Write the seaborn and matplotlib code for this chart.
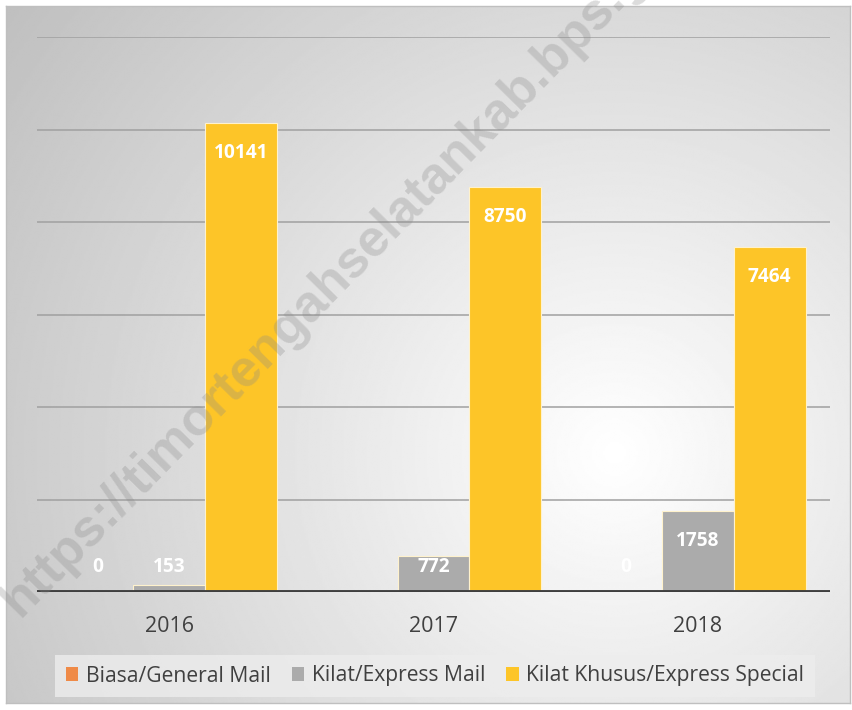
import numpy as np
import pandas as pd
import matplotlib
matplotlib.use("Agg")
import matplotlib.pyplot as plt
import seaborn as sns

# data
years = ["2016", "2017", "2018"]
series = ["Biasa/General Mail", "Kilat/Express Mail", "Kilat Khusus/Express Special"]
biasa = [0, np.nan, 0]
kilat = [153, 772, 1758]
kilat_khusus = [10141, 8750, 7464]
colors = ["#EF8A47", "#ABABAB", "#FDC528"]
watermark = "https://timortengahselatankab.bps.go.id"

df = pd.DataFrame({
    "year": years * 3,
    "series": [series[0]] * 3 + [series[1]] * 3 + [series[2]] * 3,
    "value": biasa + kilat + kilat_khusus,
})

sns.set_theme(style="white")
plt.rcParams["font.family"] = ["Open Sans", "DejaVu Sans"]

W, H = 853, 710
fig = plt.figure(figsize=(W / 100, H / 100), dpi=100)
fig.patch.set_facecolor("white")

# radial grey background of the chart area
bg = fig.add_axes([6 / W, 7 / H, 844 / W, 697 / H], zorder=0)
yy, xx = np.mgrid[0:400, 0:480]
cx, cy = 0.72 * 480, 0.64 * 400
d = np.hypot(xx - cx, yy - cy) / np.hypot(cx, cy)
shade = 1.0 - 0.25 * np.clip(d, 0, 1.2)
bg.imshow(shade, cmap="gray", vmin=0, vmax=1, aspect="auto", interpolation="bilinear")
bg.set_xticks([])
bg.set_yticks([])
for s in bg.spines.values():
    s.set_color("#BFBFBF")
    s.set_linewidth(1)

ax = fig.add_axes([37 / W, 118 / H, 793 / W, 555 / H], zorder=1)
ax.patch.set_alpha(0)
sns.barplot(data=df, x="year", y="value", hue="series", hue_order=series,
            palette=colors, saturation=1, width=0.815, gap=0, errorbar=None,
            edgecolor="#FFF2CC", linewidth=0.8, legend=False, ax=ax, zorder=3)

ax.set_ylim(0, 12000)
ax.set_xlim(-0.5, 2.5)
ax.set_yticks(np.arange(2000, 12001, 2000))
ax.yaxis.grid(True, color="#A0A0A0", linewidth=1.1)
ax.set_axisbelow(True)
ax.tick_params(axis="y", left=False, labelleft=False)
ax.tick_params(axis="x", length=0, pad=17, labelsize=15.5, labelcolor="#404040")
ax.set_xlabel("")
ax.set_ylabel("")
for s in ax.spines.values():
    s.set_visible(False)
ax.axhline(0, color="#3F3F3F", linewidth=2.8, zorder=4)

# value labels, inside end of bar, kept above the axis for short bars
for cont in ax.containers:
    for bar in cont:
        h = bar.get_height()
        if np.isnan(h):
            continue
        ax.text(bar.get_x() + bar.get_width() / 2, max(h - 650, 540), f"{int(h)}",
                ha="center", va="center", color="white", fontsize=13.8,
                fontweight="bold", zorder=5)

handles = [plt.Rectangle((0, 0), 1, 1, facecolor=c, edgecolor="none") for c in colors]
leg = fig.legend(handles, series, loc="center", bbox_to_anchor=(435 / W, 1 - 676 / H),
                 ncol=3, frameon=True, fontsize=15.2, handlelength=0.6, handleheight=0.6,
                 handletextpad=0.35, columnspacing=1.0, borderpad=0.5,
                 labelcolor="#404040")
leg.get_frame().set_facecolor("#EDEDED")
leg.get_frame().set_edgecolor("none")
leg.get_frame().set_alpha(0.8)
leg.get_frame().set_boxstyle("square", pad=0)

# site watermark (runs off the top edge, as in the source image)
fig.text(20 / W, 1 - 618 / H, watermark, rotation=45.5, rotation_mode="anchor",
         ha="left", va="baseline", fontsize=37.5, fontweight="bold",
         family="Liberation Sans", color="#8A8A8A", alpha=0.3, zorder=10)

fig.savefig("out.png", dpi=100)
